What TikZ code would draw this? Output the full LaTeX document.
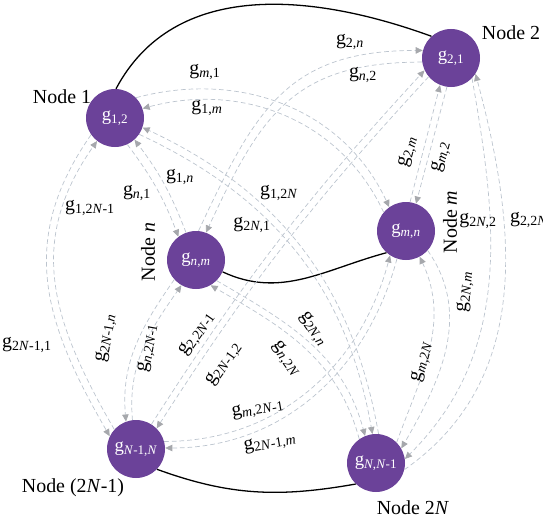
\documentclass[tikz,border=0pt]{standalone}
\usepackage{fontspec}
\setmainfont{Liberation Serif}
\usetikzlibrary{arrows.meta}
\definecolor{nodepurple}{RGB}{107,66,153}
\definecolor{linkgray}{RGB}{188,196,206}
\definecolor{tipgray}{RGB}{166,168,172}
\newcommand{\gl}[1]{g\textsubscript{#1}}

\begin{document}
\begin{tikzpicture}[x=0.03cm, y=0.03cm, every node/.style={font=\fontsize{17}{19}\selectfont},
	gnode/.style={circle, fill=nodepurple, text=white, minimum size=1.74cm, inner sep=0pt, font=\fontsize{16}{18}\selectfont},
	link/.style={draw=linkgray, dash pattern=on 4pt off 2.5pt, line width=0.6pt, -{Triangle[length=6pt, width=5.5pt, color=tipgray]}},
	tie/.style={line width=1.1pt}]
				\useasboundingbox (0,0) rectangle (543,521);

				\node[gnode] (n1) at (115,403) {\gl{1,2}};
				\node[gnode] (n2) at (451,463) {\gl{2,1}};
				\node[gnode] (nn) at (196,261) {\gl{\textit{n},\textit{m}}};
				\node[gnode] (nm) at (406,290) {\gl{\textit{m},\textit{n}}};
				\node[gnode] (n2a) at (136,72) {\gl{\textit{N}-1,\textit{N}}};
				\node[gnode] (n2b) at (376,58) {\gl{\textit{N},\textit{N}-1}};

				\node (t1) at (62,424) {Node 1};
				\node (t2) at (511,488) {Node 2};
				\node[rotate=90] (tn) at (148,269) {Node \textit{n}};
				\node[rotate=90] (tm) at (450,299) {Node \textit{m}};
				\node (t2a) at (73,33) {Node (2\textit{N}-1)};
				\node (t2b) at (413,13) {Node 2\textit{N}};

				\draw[tie] (n1.88) to[out=62,in=160] (n2.132);
				\draw[tie] (nn.336) to[out=-25,in=195] (nm.228);
				\draw[tie] (n2a.316) to[out=-20,in=190] (n2b.226);

				\draw[link] (n1.44) to[out=15,in=115] (nm.125);
				\draw[link] (nm.140) to[out=115,in=15] (n1.19);
				\draw[link] (nn.85) to[out=65,in=180,looseness=1.2] (n2.165);
				\draw[link] (n2.188) to[out=180,in=65,looseness=1.2] (nn.70);
				\draw[link] (n1.295) to[bend left=8] (nn.127);
				\draw[link] (nn.110) to[bend right=8] (n1.312);
				\draw[link] (n2b.85) to[out=100,in=-25] (n1.341);
				\draw[link] (n1.326) to[out=-25,in=100] (n2b.97);
				\draw[link] (nn.315) to[out=-30,in=105] (n2b.112);
				\draw[link] (n2b.125) to[out=105,in=-30] (nn.300);
				\draw[link] (n1.215) to[out=235,in=120,looseness=1.1] (n2a.154);
				\draw[link] (n2a.138) to[out=120,in=235,looseness=1.1] (n1.232);
				\draw[link] (nn.222) to[out=235,in=95] (n2a.110);
				\draw[link] (n2a.97) to[out=95,in=235] (nn.240);
				\draw[link] (nm.82) -- (n2.248);
				\draw[link] (n2.262) -- (nm.70);
				\draw[link] (n2a.58) to[bend left=5] (n2.205);
				\draw[link] (n2.220) to[bend right=5] (n2a.45);
				\draw[link] (n2b.-13) to[out=35,in=-75] (n2.327);
				\draw[link] (n2.316) to[out=-80,in=45] (n2b.8);
				\draw[link] (nm.318) to[out=-55,in=60] (n2b.30);
				\draw[link] (n2b.45) to[out=70,in=-65] (nm.298);
				\draw[link] (n2a.15) to[out=0,in=255] (nm.237);
				\draw[link] (nm.252) to[out=255,in=0] (n2a.2);

				\node (g1) at (205,449) {\gl{\textit{m},1}};
				\node (g2) at (207,413) {\gl{1,\textit{m}}};
				\node (g3) at (350,479) {\gl{2,\textit{n}}};
				\node (g4) at (363,446) {\gl{\textit{n},2}};
				\node (g5) at (180,344) {\gl{1,\textit{n}}};
				\node (g6) at (137,328) {\gl{\textit{n},1}};
				\node (g7) at (90,313) {\gl{1,2\textit{N}-1}};
				\node (g8) at (279,328) {\gl{1,2\textit{N}}};
				\node (g9) at (252,296) {\gl{2\textit{N},1}};
				\node[rotate=75] (g10) at (408,369) {\gl{2,\textit{m}}};
				\node[rotate=75] (g11) at (441,364) {\gl{\textit{m},2}};
				\node (g12) at (478,300) {\gl{2\textit{N},2}};
				\node (g13) at (529,301) {\gl{2,2\textit{N}}};
				\node[rotate=85] (g14) at (465,229) {\gl{2\textit{N},\textit{m}}};
				\node[rotate=75] (g15) at (422,159) {\gl{\textit{m},2\textit{N}}};
				\node (g16) at (27,176) {\gl{2\textit{N}-1,1}};
				\node[rotate=80] (g17) at (106,183) {\gl{2\textit{N}-1,\textit{n}}};
				\node[rotate=80] (g18) at (148,173) {\gl{\textit{n},2\textit{N}-1}};
				\node[rotate=55] (g19) at (197,187) {\gl{2,2\textit{N}-1}};
				\node[rotate=55] (g20) at (224,157) {\gl{2\textit{N}-1,2}};
				\node[rotate=-55] (g21) at (313,192) {\gl{2\textit{N},\textit{n}}};
				\node[rotate=-55] (g22) at (286,162) {\gl{\textit{n},2\textit{N}}};
				\node[rotate=10] (g23) at (258,112) {\gl{\textit{m},2\textit{N}-1}};
				\node[rotate=10] (g24) at (270,78) {\gl{2\textit{N}-1,\textit{m}}};
\end{tikzpicture}
\end{document}
